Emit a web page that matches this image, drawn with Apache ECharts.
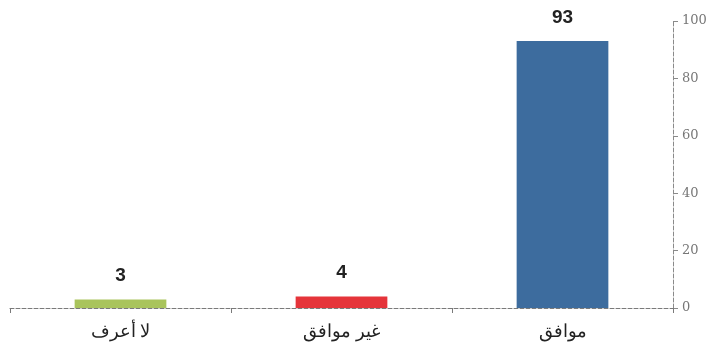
<!DOCTYPE html>
<html><head><meta charset="utf-8">
<script src="https://cdn.jsdelivr.net/npm/echarts@6/dist/echarts.min.js"></script>
<style>html,body{margin:0;padding:0;background:#fff}#c{width:716px;height:353px}</style>
</head><body><div id="c"></div>
<script>
const categories = ['لا أعرف', 'غير موافق', 'موافق'];
const values = [3, 4, 93];
const barColors = ['#a9c45c', '#e5343a', '#3d6c9e'];
const yTicks = [0, 20, 40, 60, 80, 100];

const chart = echarts.init(document.getElementById('c'));
chart.setOption({
  animation: false,
  grid: { left: 10, right: 43, top: 21, bottom: 45, containLabel: false },
  xAxis: {
    type: 'category',
    data: categories,
    axisLine: { lineStyle: { color: '#7a7a7a', type: 'dashed', width: 1 } },
    axisTick: { show: true, length: 5, lineStyle: { color: '#7a7a7a' } },
    axisLabel: { color: '#222', fontSize: 18, fontFamily: 'Noto Sans', margin: 15 }
  },
  yAxis: {
    type: 'value',
    position: 'right',
    min: 0, max: 100, interval: 20,
    splitLine: { show: false },
    axisLine: { show: true, lineStyle: { color: '#8a8a8a', type: 'dashed', width: 1 } },
    axisTick: { show: true, length: 5, lineStyle: { color: '#8a8a8a' } },
    axisLabel: { color: '#777', fontSize: 13, fontFamily: 'DejaVu Serif', margin: 9,
      formatter: v => yTicks.includes(v) ? String(v) : '' }
  },
  series: [{
    type: 'bar',
    data: values.map((v, i) => ({ value: v, itemStyle: { color: barColors[i] } })),
    barWidth: '41.5%',
    label: { show: true, position: 'top', distance: 14, color: '#222',
      fontSize: 19, fontWeight: 'bold', fontFamily: 'Liberation Sans' }
  }]
});
</script></body></html>
